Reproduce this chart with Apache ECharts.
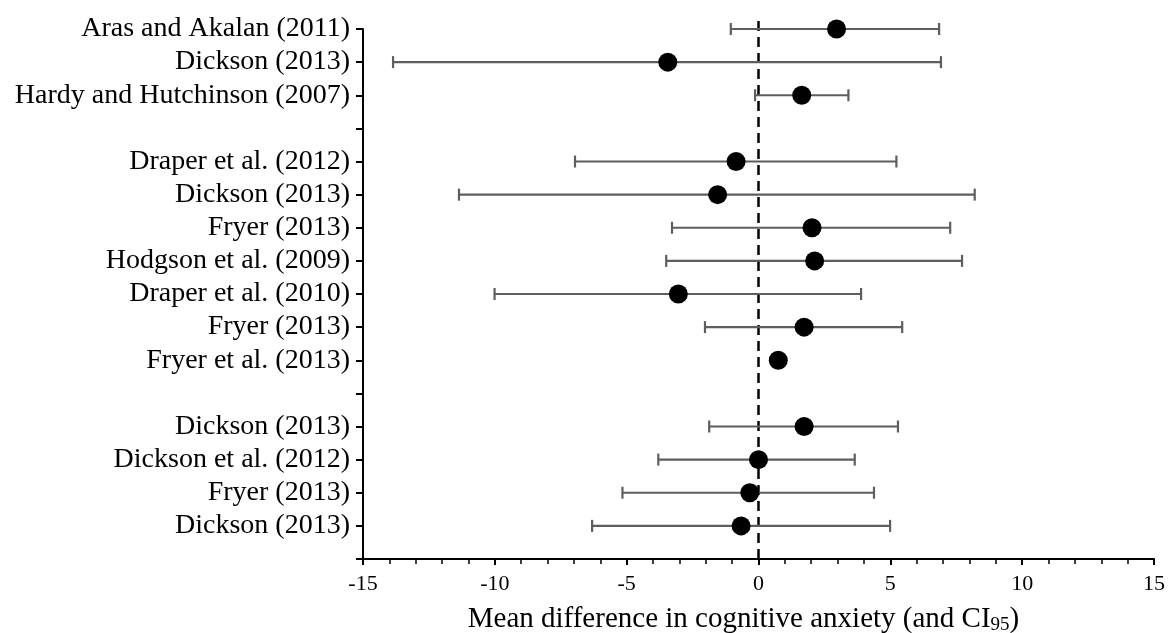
<!DOCTYPE html>
<html>
<head>
<meta charset="utf-8">
<title>Cognitive anxiety forest plot</title>
<script src="https://cdn.jsdelivr.net/npm/echarts@6/dist/echarts.min.js"></script>
<style>
  html, body { margin: 0; padding: 0; background: #fff; }
  #chart { width: 1170px; height: 633px; }
</style>
</head>
<body>
<div id="chart"></div>
<script>
// Study rows from top to bottom; empty strings separate the groups.
const studies = [
  'Aras and Akalan (2011)',
  'Dickson (2013)',
  'Hardy and Hutchinson (2007)',
  '',
  'Draper et al. (2012)',
  'Dickson (2013)',
  'Fryer (2013)',
  'Hodgson et al. (2009)',
  'Draper et al. (2010)',
  'Fryer (2013)',
  'Fryer et al. (2013)',
  '',
  'Dickson (2013)',
  'Dickson et al. (2012)',
  'Fryer (2013)',
  'Dickson (2013)'
];
const meanDiff = [2.96, -3.44, 1.64, null, -0.85, -1.55, 2.03, 2.13, -3.04, 1.73, 0.75, null, 1.73, 0.0, -0.33, -0.66];
const ciLower  = [-1.05, -13.86, -0.13, null, -6.96, -11.36, -3.28, -3.5, -10.01, -2.03, null, null, -1.87, -3.8, -5.16, -6.31];
const ciUpper  = [6.85, 6.92, 3.41, null, 5.23, 8.2, 7.27, 7.72, 3.89, 5.45, null, null, 5.29, 3.65, 4.38, 4.99];
const xTicks = { min: -15, max: 15, step: 5 };

const n = studies.length;
// Row i (from the top) sits at y = n - i on the value axis, 0 is the bottom edge.
const rowY = i => n - i;

const points = [];
const bars = [];
studies.forEach((s, i) => {
  if (meanDiff[i] !== null) points.push([meanDiff[i], rowY(i)]);
  if (ciLower[i] !== null && ciUpper[i] !== null) bars.push([ciLower[i], ciUpper[i], rowY(i)]);
});

const serif = '"Liberation Serif", "Times New Roman", serif';
const chart = echarts.init(document.getElementById('chart'), null, { renderer: 'canvas' });

chart.setOption({
  backgroundColor: '#ffffff',
  animation: false,
  grid: {
    left: 363, right: 16, top: 29, bottom: 74,
    containLabel: false,
    outerBoundsMode: 'none'
  },
  xAxis: {
    type: 'value',
    min: xTicks.min,
    max: xTicks.max,
    interval: xTicks.step,
    name: '{a|Mean difference in cognitive anxiety (and CI}{s|95}{a|)}',
    nameLocation: 'middle',
    nameGap: 44,
    nameTextStyle: {
      padding: [0, 30, 0, 0],
      rich: {
        a: { fontFamily: serif, fontSize: 29, color: '#000', lineHeight: 32 },
        s: { fontFamily: serif, fontSize: 19, color: '#000', lineHeight: 32, padding: [13, 0, 0, 0] }
      }
    },
    axisLine: { show: true, onZero: false, lineStyle: { color: '#000', width: 2 } },
    axisTick: { show: true, inside: false, length: 6, lineStyle: { color: '#000', width: 2 } },
    minorTick: { show: true, splitNumber: 5, length: 5, lineStyle: { color: '#000', width: 1.5 } },
    splitLine: { show: false },
    axisLabel: {
      fontFamily: serif, fontSize: 22, color: '#000', margin: 14,
      formatter: v => String(v)
    }
  },
  yAxis: {
    type: 'value',
    min: 0,
    max: n,
    interval: 1,
    axisLine: { show: true, onZero: false, lineStyle: { color: '#000', width: 2 } },
    axisTick: { show: true, inside: false, length: 7, lineStyle: { color: '#000', width: 2 } },
    splitLine: { show: false },
    axisLabel: {
      fontFamily: serif, fontSize: 28, color: '#000', margin: 13,
      formatter: v => (v >= 1 && v <= n) ? studies[n - v] : ''
    }
  },
  series: [
    {
      // reference line at zero difference
      type: 'line',
      data: [[0, 0], [0, n + 0.42]],
      symbol: 'none',
      clip: false,
      silent: true,
      lineStyle: { color: '#000', width: 2.5, type: [10, 6] },
      z: 1
    },
    {
      // 95% confidence intervals
      type: 'custom',
      data: bars,
      clip: false,
      silent: true,
      z: 2,
      renderItem: (params, api) => {
        const lo = api.coord([api.value(0), api.value(2)]);
        const hi = api.coord([api.value(1), api.value(2)]);
        const capH = 6;
        const style = { stroke: '#5e5e5e', lineWidth: 2.2, fill: null };
        return {
          type: 'group',
          children: [
            { type: 'line', shape: { x1: lo[0], y1: lo[1], x2: hi[0], y2: hi[1] }, style },
            { type: 'line', shape: { x1: lo[0], y1: lo[1] - capH, x2: lo[0], y2: lo[1] + capH }, style },
            { type: 'line', shape: { x1: hi[0], y1: hi[1] - capH, x2: hi[0], y2: hi[1] + capH }, style }
          ]
        };
      },
      encode: { x: [0, 1], y: 2 }
    },
    {
      // mean differences
      type: 'scatter',
      data: points,
      symbol: 'circle',
      symbolSize: 19,
      itemStyle: { color: '#000', opacity: 1 },
      silent: true,
      z: 3
    }
  ]
});
</script>
</body>
</html>
